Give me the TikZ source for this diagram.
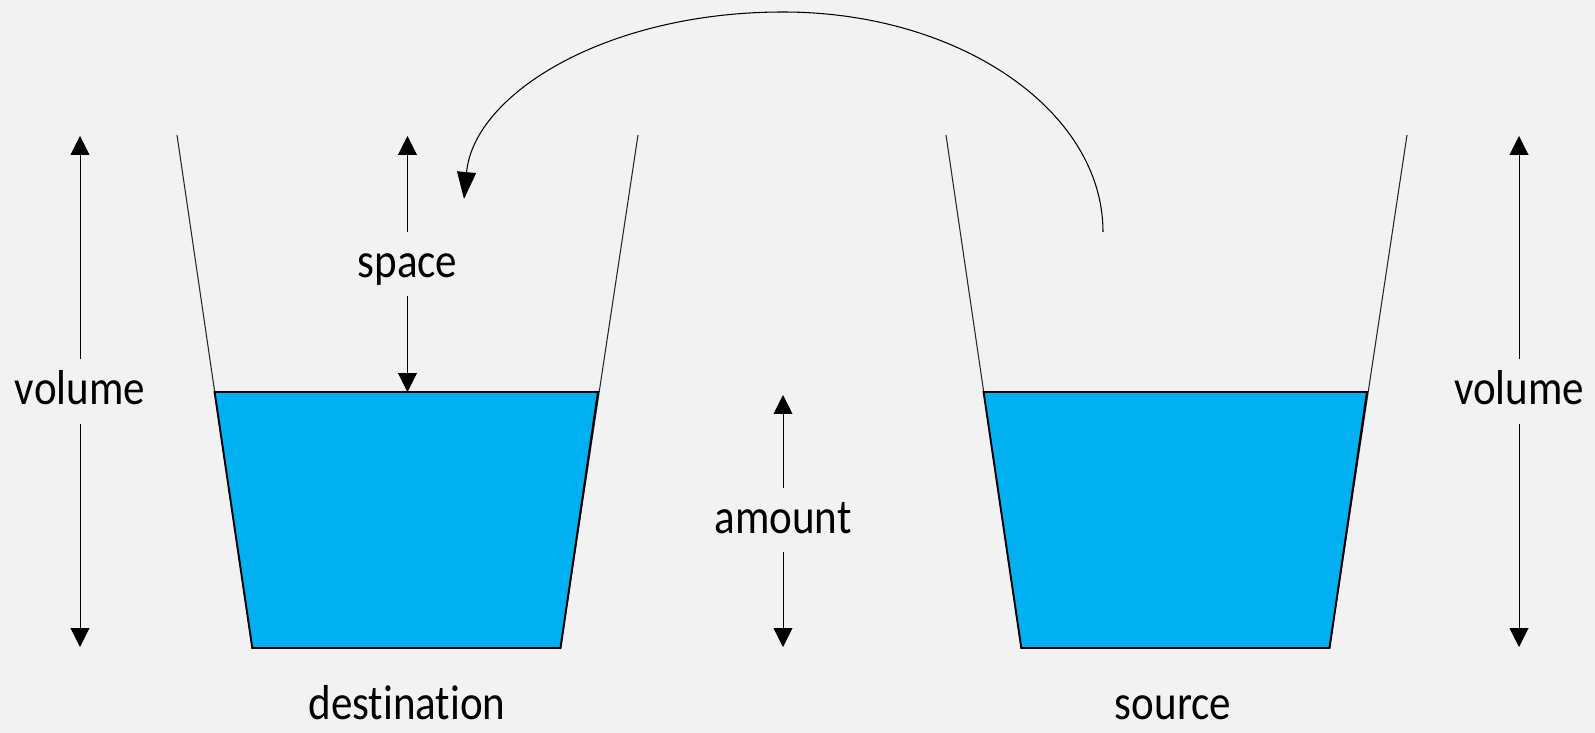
\documentclass[tikz,border=0pt]{standalone}
\usepackage{fontspec}
\setmainfont{Carlito}[Ligatures=NoCommon]
\usepackage{xcolor}
\usepackage{graphicx}
\usetikzlibrary{arrows.meta, positioning}
\definecolor{water}{HTML}{00B0F0}
\definecolor{paper}{HTML}{F2F2F2}
\newcommand{\word}[1]{\scalebox{1}[1.14]{#1}}
\tikzstyle{arrow}    = [line width=0.5pt, -{Triangle[length=0.38cm, width=0.38cm]}]
\tikzstyle{bigarrow} = [line width=0.6pt, -{Triangle[length=0.54cm, width=0.38cm]}]
\tikzstyle{txt}      = [inner xsep=0pt, inner ysep=0.25cm, text height=0.66cm, text depth=0.12cm, font=\fontsize{24.5}{29}\selectfont]
\tikzstyle{rim}      = [line width=0.6pt, black!85]
\tikzstyle{fluid}    = [fill=water, draw=black, line width=1.1pt, line join=miter]
\tikzset{every node/.style={align=center}}

\begin{document}
\begin{tikzpicture}[x=0.02cm, y=-0.02cm]
    \useasboundingbox (0,0) rectangle (1595,733);
    \fill[paper] (0,0) rectangle (1595,733);

    \foreach \dx in {0,769} {
        \draw[rim] (177+\dx,135) -- (252.3+\dx,648) -- (560.5+\dx,648) -- (638+\dx,135);
        \filldraw[fluid] (214.6+\dx,392) -- (252.3+\dx,648) -- (560.5+\dx,648) -- (598+\dx,392) -- cycle;
    }

    \node (volL)   at (80,391.5)   [txt] {\word{volume}};
    \node (volR)   at (1519,391.5) [txt] {\word{volume}};
    \node (space)  at (407.5,264)  [txt] {\word{space}};
    \node (amount) at (783,520)    [txt] {\word{amount}};
    \node (dest)   at (407,719)    [txt, anchor=base, inner ysep=0pt, text depth=0pt] {\word{destination}};
    \node (src)    at (1173,719)   [txt, anchor=base, inner ysep=0pt, text depth=0pt] {\word{source}};

    \coordinate (volLtop)   at (80,136);
    \coordinate (volLbot)   at (80,647);
    \coordinate (volRtop)   at (1519,136);
    \coordinate (volRbot)   at (1519,647);
    \coordinate (spacetop)  at (407.5,136);
    \coordinate (spacebot)  at (407.5,392);
    \coordinate (amounttop) at (783,395);
    \coordinate (amountbot) at (783,647);
    \coordinate (pour)      at (1103,232);
    \coordinate (peak)      at (783,12);
    \coordinate (inlet)     at (464,199);

    \draw [arrow] (volL)   -- (volLtop);
    \draw [arrow] (volL)   -- (volLbot);
    \draw [arrow] (volR)   -- (volRtop);
    \draw [arrow] (volR)   -- (volRbot);
    \draw [arrow] (space)  -- (spacetop);
    \draw [arrow] (space)  -- (spacebot);
    \draw [arrow] (amount) -- (amounttop);
    \draw [arrow] (amount) -- (amountbot);
    \draw [bigarrow] (pour) .. controls +(0,-121) and +(177,0) .. (peak)
                            .. controls +(-177,0) and +(10,-105) .. (inlet);
\end{tikzpicture}
\end{document}
